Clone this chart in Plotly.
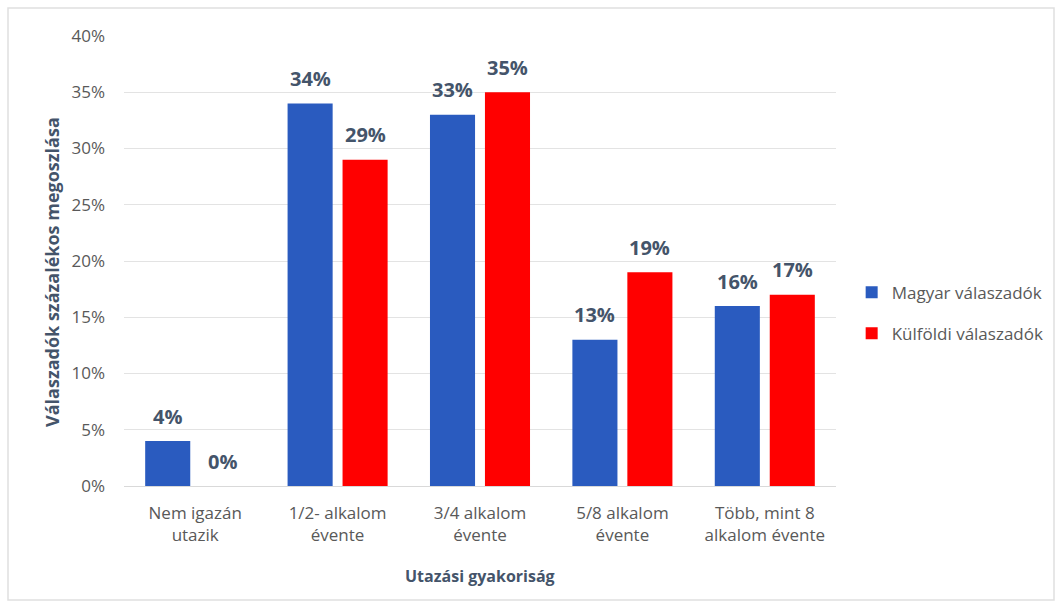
import plotly.graph_objects as go

categories = ["Nem igazán<br>utazik", "1/2- alkalom<br>évente", "3/4 alkalom<br>évente",
              "5/8 alkalom<br>évente", "Több, mint 8<br>alkalom évente"]
magyar = [4, 34, 33, 13, 16]
kulfoldi = [0, 29, 35, 19, 17]
tick_vals = [0, 5, 10, 15, 20, 25, 30, 35, 40]
tick_text = ["0%", "5%", "10%", "15%", "20%", "25%", "30%", "35%", "40%"]
series_names = ["Magyar válaszadók", "Külföldi válaszadók"]

FONT = "Open Sans, sans-serif"
LABEL_COLOR = "#44546A"
TICK_COLOR = "#595959"
BLUE = "#2A5BBF"
RED = "#FF0000"

fig = go.Figure()
fig.add_trace(go.Bar(
    name=series_names[0], x=categories, y=magyar, legendgroup="a",
    marker=dict(color=BLUE, line=dict(width=0)),
))
fig.add_trace(go.Bar(
    name=series_names[1], x=categories, y=kulfoldi, legendgroup="b",
    marker=dict(color=RED, line=dict(width=0)),
))

# data labels above each bar
for vals, shift in ((magyar, -27.5), (kulfoldi, 27.5)):
    for c, v in zip(categories, vals):
        fig.add_annotation(
            x=c, y=v, xref="x", yref="y", text=f"{v}%", showarrow=False,
            xshift=shift, yshift=25, yanchor="middle",
            font=dict(family=FONT, size=20, color=LABEL_COLOR, weight="bold"),
        )

fig.update_layout(
    width=1062, height=608,
    margin=dict(l=124, r=226, t=36, b=122),
    paper_bgcolor="white", plot_bgcolor="white",
    barmode="group", bargap=0.228, bargroupgap=0.18,
    font=dict(family=FONT, color=TICK_COLOR, size=17),
    legend=dict(x=1.022, y=0.384, yanchor="middle", xanchor="left",
                font=dict(size=17, color=TICK_COLOR, family=FONT),
                tracegroupgap=16, itemwidth=30, bgcolor="rgba(0,0,0,0)"),
    showlegend=True,
)
fig.update_yaxes(
    range=[0, 40], tickvals=tick_vals, ticktext=tick_text,
    showgrid=True, gridcolor="#E3E3E3", gridwidth=1,
    zeroline=True, zerolinecolor="#D9D9D9", zerolinewidth=1,
    tickfont=dict(size=17, color=TICK_COLOR, family=FONT), ticks="",
    ticklabelstandoff=18,
)
fig.update_xaxes(
    showgrid=False, showline=False, ticks="",
    tickfont=dict(size=17, color=TICK_COLOR, family=FONT),
    ticklabelstandoff=15,
)
# axis titles
fig.add_annotation(
    text="Válaszadók százalékos megoszlása", xref="paper", yref="paper",
    x=(52 - 124) / 712, y=(486 - 272) / 450, textangle=-90, showarrow=False,
    xanchor="center", yanchor="middle",
    font=dict(family=FONT, size=18, color=LABEL_COLOR, weight="bold"),
)
fig.add_annotation(
    text="Utazási gyakoriság", xref="paper", yref="paper",
    x=0.5, y=(486 - 576) / 450, showarrow=False,
    xanchor="center", yanchor="middle",
    font=dict(family=FONT, size=16, color=LABEL_COLOR, weight="bold"),
)
fig.add_shape(type="rect", xref="paper", yref="paper",
              x0=-116 / 712, x1=1 + 218 / 712, y0=-114 / 450, y1=1 + 28 / 450,
              line=dict(color="#E0E0E0", width=1.5), layer="below")

fig.write_html("out.html")
